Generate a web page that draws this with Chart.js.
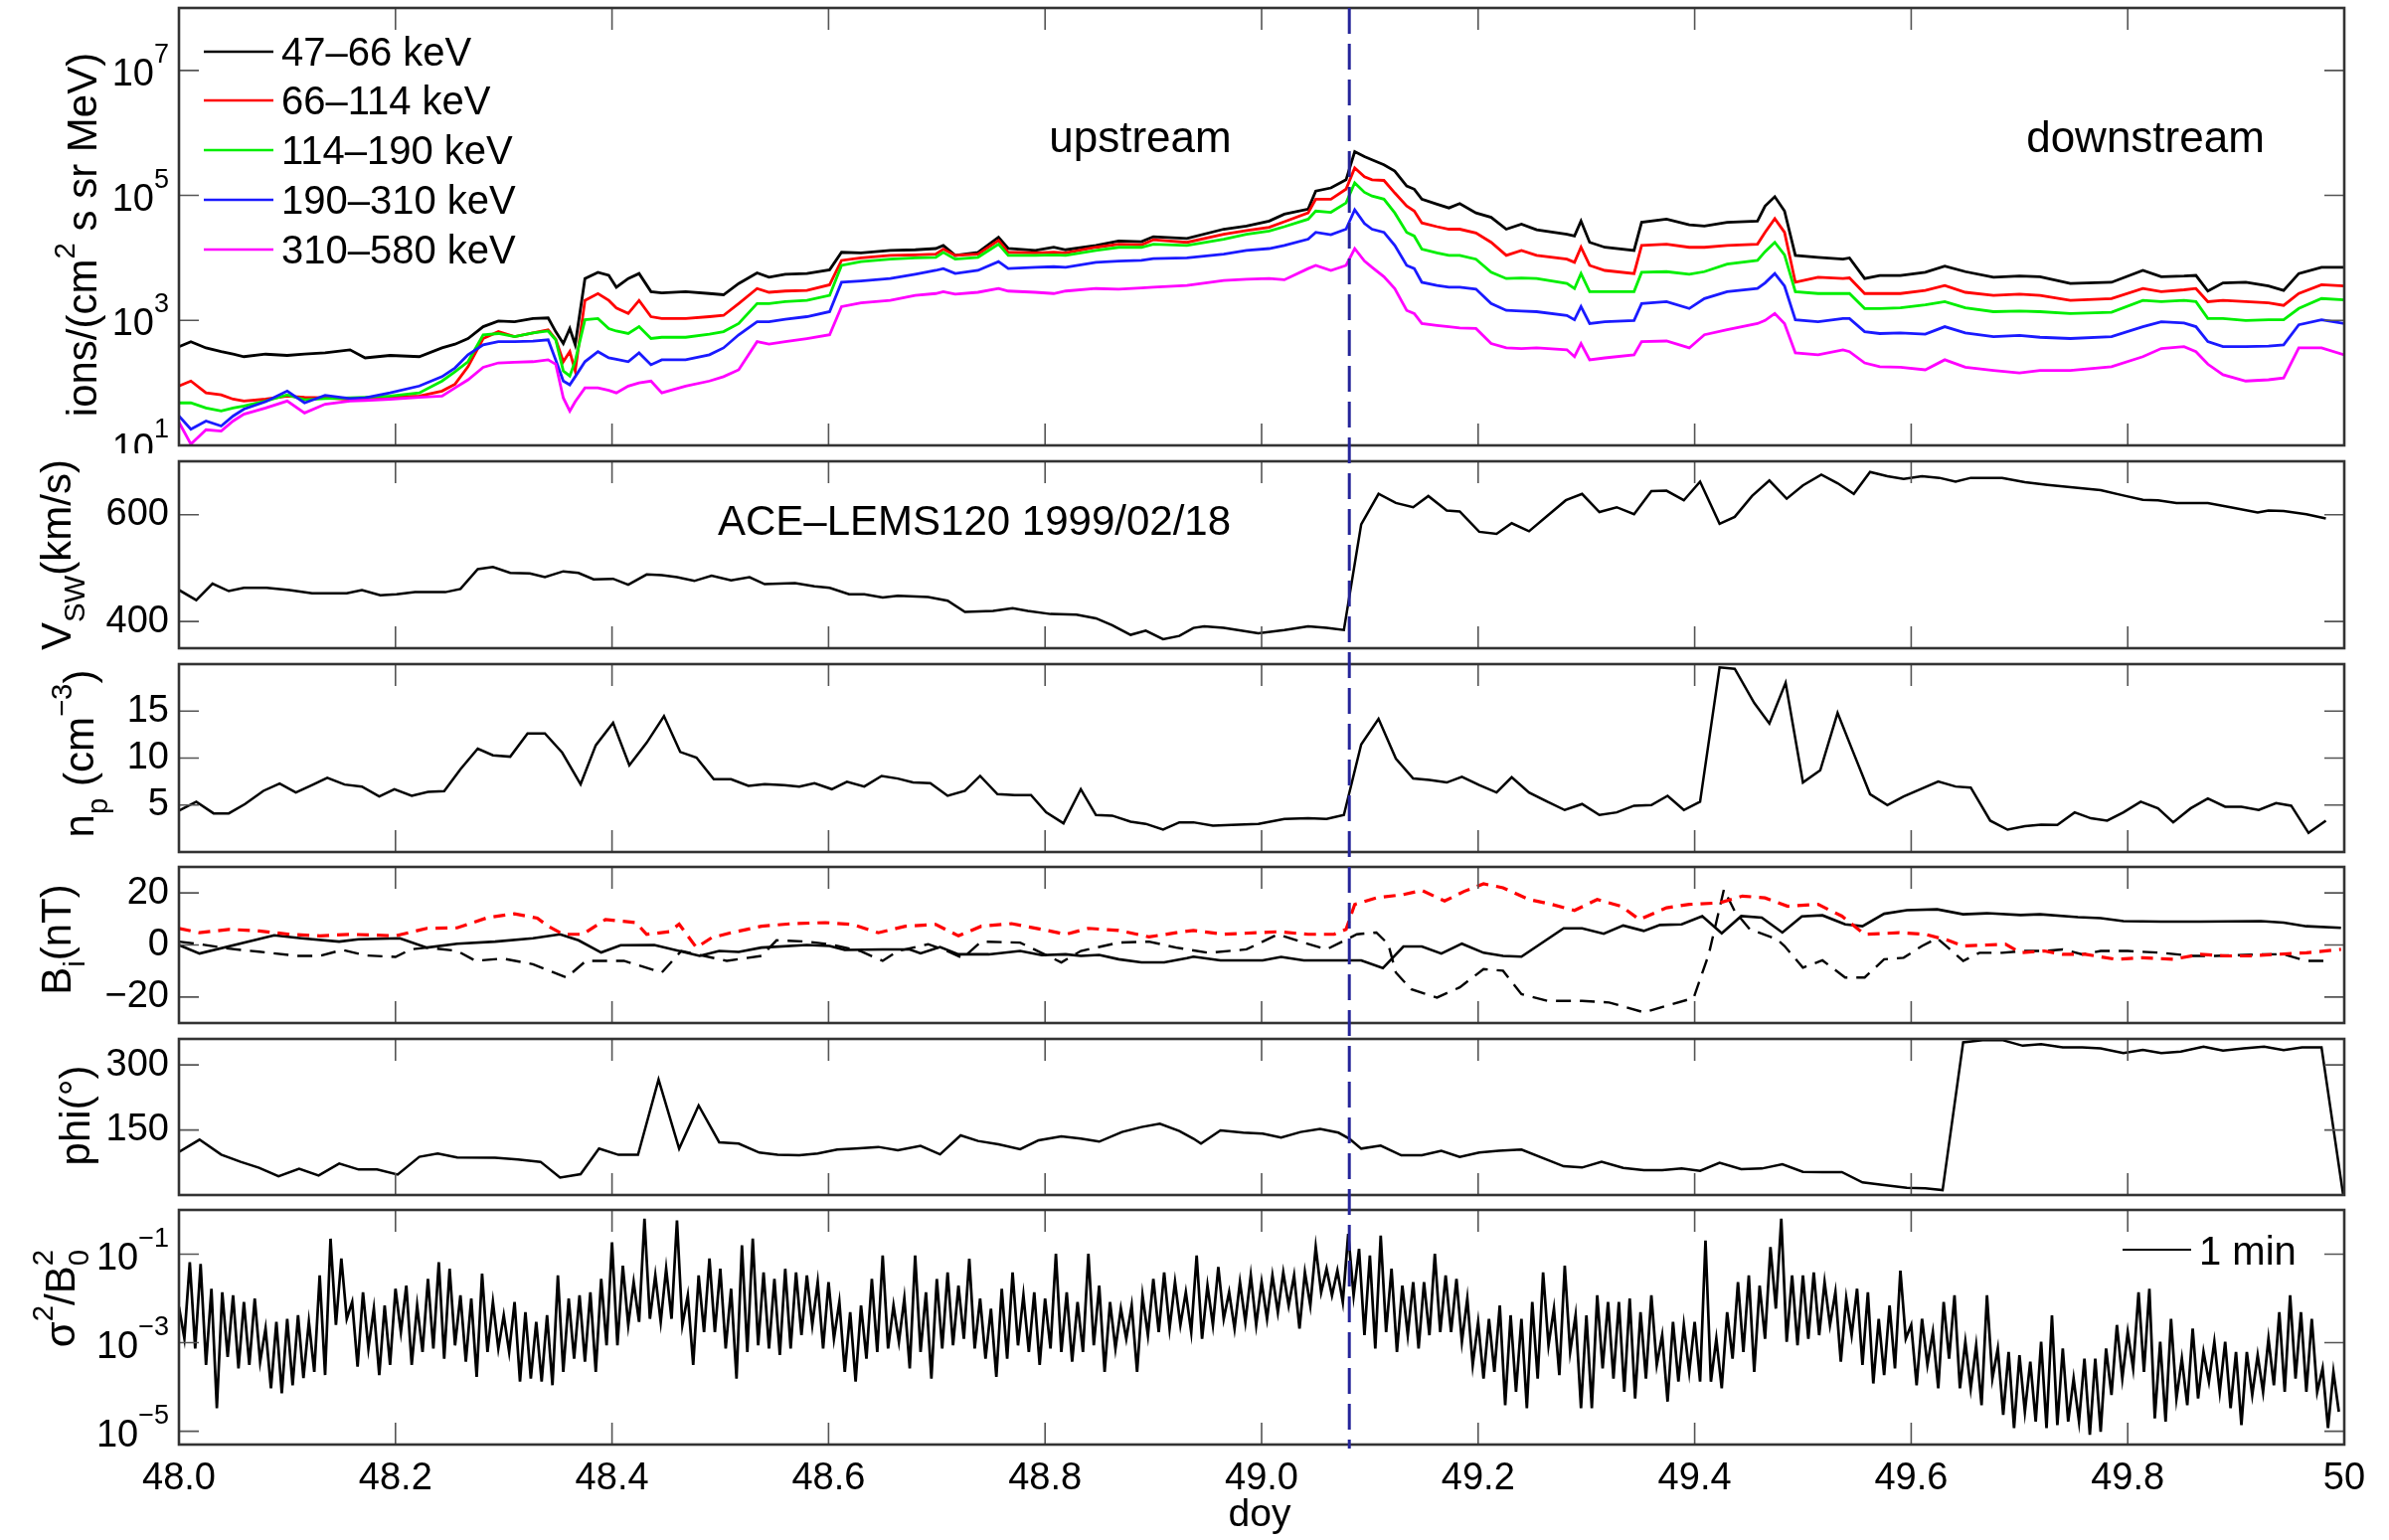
<!DOCTYPE html>
<html>
<head>
<meta charset="utf-8">
<title>ACE-LEMS120 1999/02/18</title>
<script src="https://cdn.jsdelivr.net/npm/chart.js@4.4.0/dist/chart.umd.min.js"></script>
<style>
  html, body { margin: 0; padding: 0; background: #fff; }
  #wrap { position: relative; width: 2403px; height: 1549px; overflow: hidden; }
  #wrap canvas { position: absolute; left: 0; }
</style>
</head>
<body>
<div id="wrap"></div>
<script>
/**
 * Six stacked panels around the 1999 doy 49 shock: ion fluxes, solar wind speed,
 * density, field components, field angle and normalised field variance.
 */

// energetic ion fluxes, log10 of ions/(cm^2 s sr MeV)
const epTime = [
  48.000, 48.011, 48.025, 48.039, 48.050, 48.060, 48.080, 48.100, 48.116, 48.135,
  48.158, 48.172, 48.195, 48.222, 48.243, 48.255, 48.267, 48.281, 48.295, 48.310,
  48.327, 48.341, 48.348, 48.355, 48.361, 48.366, 48.375, 48.387, 48.397, 48.404,
  48.415, 48.425, 48.436, 48.446, 48.468, 48.490, 48.503, 48.517, 48.534, 48.545,
  48.560, 48.580, 48.601, 48.612, 48.630, 48.657, 48.680, 48.699, 48.706, 48.717,
  48.738, 48.757, 48.766, 48.791, 48.808, 48.819, 48.847, 48.868, 48.889, 48.900,
  48.931, 48.965, 48.986, 49.007, 49.021, 49.043, 49.050, 49.064, 49.078, 49.086,
  49.095, 49.102, 49.113, 49.123, 49.134, 49.141, 49.148, 49.162, 49.173, 49.183,
  49.198, 49.212, 49.226, 49.240, 49.254, 49.282, 49.289, 49.295, 49.303, 49.317,
  49.344, 49.351, 49.374, 49.395, 49.409, 49.430, 49.458, 49.465, 49.474, 49.483,
  49.493, 49.514, 49.537, 49.543, 49.557, 49.571, 49.590, 49.613, 49.631, 49.650,
  49.676, 49.700, 49.719, 49.747, 49.785, 49.814, 49.831, 49.852, 49.863, 49.874,
  49.888, 49.909, 49.930, 49.944, 49.958, 49.979, 50.000
];
const flux47 = [
  2.58, 2.66, 2.56, 2.50, 2.46, 2.42, 2.46, 2.44, 2.46, 2.48,
  2.53, 2.40, 2.44, 2.42, 2.56, 2.62, 2.71, 2.90, 2.99, 2.98,
  3.03, 3.04, 2.82, 2.63, 2.87, 2.61, 3.67, 3.77, 3.72, 3.53,
  3.67, 3.75, 3.46, 3.44, 3.46, 3.43, 3.41, 3.59, 3.76, 3.69,
  3.74, 3.75, 3.81, 4.09, 4.08, 4.12, 4.13, 4.15, 4.20, 4.04,
  4.09, 4.33, 4.15, 4.12, 4.17, 4.13, 4.20, 4.27, 4.26, 4.34,
  4.31, 4.46, 4.51, 4.59, 4.70, 4.78, 5.07, 5.12, 5.25, 5.70,
  5.62, 5.57, 5.49, 5.39, 5.15, 5.10, 4.94, 4.86, 4.80, 4.87,
  4.72, 4.65, 4.46, 4.54, 4.45, 4.38, 4.35, 4.59, 4.25, 4.17,
  4.12, 4.57, 4.62, 4.53, 4.51, 4.57, 4.59, 4.83, 4.98, 4.75,
  4.04, 4.01, 3.98, 4.00, 3.67, 3.72, 3.72, 3.77, 3.87, 3.78,
  3.69, 3.71, 3.70, 3.59, 3.61, 3.80, 3.70, 3.71, 3.72, 3.47,
  3.60, 3.61, 3.55, 3.48, 3.75, 3.85, 3.85
];
const flux66 = [
  1.95, 2.03, 1.84, 1.81, 1.74, 1.71, 1.74, 1.79, 1.77, 1.76,
  1.74, 1.75, 1.77, 1.79, 1.87, 1.98, 2.26, 2.71, 2.82, 2.74,
  2.80, 2.85, 2.70, 2.34, 2.50, 2.19, 3.32, 3.43, 3.32, 3.20,
  3.11, 3.32, 3.06, 3.03, 3.03, 3.06, 3.08, 3.27, 3.51, 3.45,
  3.47, 3.48, 3.57, 3.96, 4.00, 4.04, 4.05, 4.06, 4.14, 4.04,
  4.06, 4.28, 4.09, 4.08, 4.09, 4.08, 4.17, 4.22, 4.21, 4.29,
  4.25, 4.38, 4.44, 4.49, 4.58, 4.72, 4.94, 4.94, 5.10, 5.44,
  5.30, 5.25, 5.24, 5.04, 4.83, 4.75, 4.56, 4.50, 4.46, 4.46,
  4.40, 4.25, 4.04, 4.12, 4.04, 3.98, 3.93, 4.17, 3.88, 3.80,
  3.75, 4.20, 4.22, 4.17, 4.17, 4.20, 4.22, 4.41, 4.63, 4.41,
  3.61, 3.69, 3.67, 3.68, 3.43, 3.43, 3.43, 3.48, 3.56, 3.45,
  3.40, 3.42, 3.40, 3.32, 3.35, 3.51, 3.46, 3.49, 3.51, 3.30,
  3.32, 3.30, 3.28, 3.24, 3.43, 3.57, 3.55
];
const flux114 = [
  1.68, 1.68, 1.60, 1.55, 1.60, 1.63, 1.71, 1.81, 1.73, 1.75,
  1.76, 1.77, 1.79, 1.84, 2.03, 2.18, 2.34, 2.77, 2.79, 2.74,
  2.80, 2.83, 2.69, 2.19, 2.11, 2.35, 3.01, 3.03, 2.87, 2.83,
  2.79, 2.90, 2.71, 2.73, 2.73, 2.78, 2.82, 2.95, 3.27, 3.27,
  3.30, 3.32, 3.40, 3.88, 3.94, 3.98, 4.00, 4.01, 4.09, 3.98,
  4.01, 4.22, 4.04, 4.04, 4.05, 4.04, 4.12, 4.17, 4.17, 4.22,
  4.20, 4.30, 4.38, 4.43, 4.50, 4.62, 4.75, 4.73, 4.88, 5.20,
  5.05, 4.99, 4.94, 4.72, 4.41, 4.35, 4.14, 4.08, 4.04, 4.04,
  3.98, 3.77, 3.67, 3.68, 3.67, 3.59, 3.51, 3.75, 3.46, 3.46,
  3.46, 3.77, 3.78, 3.74, 3.78, 3.90, 3.96, 4.10, 4.25, 4.05,
  3.46, 3.43, 3.43, 3.43, 3.19, 3.19, 3.20, 3.25, 3.30, 3.20,
  3.14, 3.15, 3.14, 3.11, 3.13, 3.32, 3.30, 3.32, 3.30, 3.03,
  3.03, 3.00, 3.01, 3.01, 3.19, 3.35, 3.33
];
const flux190 = [
  1.47, 1.26, 1.39, 1.31, 1.47, 1.58, 1.70, 1.87, 1.68, 1.80,
  1.75, 1.76, 1.84, 1.95, 2.10, 2.24, 2.45, 2.61, 2.66, 2.66,
  2.67, 2.69, 2.37, 2.03, 1.97, 2.10, 2.34, 2.50, 2.40, 2.38,
  2.34, 2.48, 2.29, 2.37, 2.37, 2.45, 2.56, 2.77, 2.98, 2.98,
  3.02, 3.06, 3.14, 3.61, 3.63, 3.67, 3.74, 3.80, 3.83, 3.75,
  3.80, 3.94, 3.83, 3.85, 3.86, 3.85, 3.93, 3.95, 3.96, 3.99,
  4.00, 4.06, 4.12, 4.15, 4.20, 4.30, 4.41, 4.37, 4.46, 4.77,
  4.55, 4.46, 4.41, 4.20, 3.88, 3.83, 3.61, 3.56, 3.53, 3.53,
  3.50, 3.27, 3.16, 3.15, 3.14, 3.08, 3.01, 3.22, 2.95, 2.98,
  3.00, 3.27, 3.30, 3.19, 3.35, 3.46, 3.51, 3.60, 3.75, 3.55,
  3.01, 2.98, 3.03, 3.03, 2.82, 2.79, 2.80, 2.78, 2.90, 2.80,
  2.74, 2.76, 2.73, 2.71, 2.74, 2.90, 2.98, 2.96, 2.90, 2.66,
  2.58, 2.58, 2.59, 2.61, 2.93, 3.01, 2.95
];
const flux310 = [
  1.37, 1.02, 1.25, 1.23, 1.39, 1.50, 1.60, 1.71, 1.52, 1.66,
  1.71, 1.72, 1.74, 1.77, 1.79, 1.92, 2.05, 2.25, 2.32, 2.33,
  2.34, 2.37, 2.30, 1.76, 1.55, 1.70, 1.92, 1.92, 1.88, 1.84,
  1.95, 2.00, 2.03, 1.84, 1.95, 2.03, 2.10, 2.21, 2.66, 2.62,
  2.66, 2.71, 2.77, 3.22, 3.28, 3.32, 3.40, 3.43, 3.46, 3.42,
  3.45, 3.51, 3.47, 3.45, 3.43, 3.47, 3.51, 3.50, 3.52, 3.53,
  3.56, 3.64, 3.66, 3.67, 3.65, 3.83, 3.88, 3.80, 3.88, 4.15,
  3.95, 3.85, 3.70, 3.51, 3.16, 3.11, 2.95, 2.92, 2.90, 2.88,
  2.87, 2.63, 2.56, 2.55, 2.56, 2.53, 2.42, 2.63, 2.37, 2.40,
  2.45, 2.66, 2.67, 2.56, 2.77, 2.85, 2.95, 3.00, 3.11, 2.95,
  2.48, 2.45, 2.53, 2.50, 2.32, 2.26, 2.25, 2.21, 2.37, 2.25,
  2.20, 2.16, 2.20, 2.20, 2.26, 2.42, 2.55, 2.58, 2.50, 2.30,
  2.13, 2.03, 2.05, 2.08, 2.56, 2.56, 2.45
];
const epLabels = ['47–66 keV', '66–114 keV', '114–190 keV', '190–310 keV', '310–580 keV'];
const epColors = ['#000000', '#ff0000', '#00ee00', '#1a1aff', '#ff00ff'];
const epTicks = [1e1, 1e3, 1e5, 1e7];

// solar wind speed (km/s)
const vTime = [
  48.000, 48.016, 48.031, 48.046, 48.060, 48.081, 48.102, 48.123, 48.155, 48.169,
  48.186, 48.201, 48.218, 48.246, 48.260, 48.276, 48.290, 48.306, 48.324, 48.338,
  48.355, 48.369, 48.383, 48.401, 48.415, 48.432, 48.446, 48.460, 48.476, 48.492,
  48.510, 48.527, 48.541, 48.569, 48.587, 48.601, 48.619, 48.633, 48.650, 48.664,
  48.692, 48.710, 48.726, 48.752, 48.770, 48.784, 48.805, 48.829, 48.847, 48.862,
  48.879, 48.893, 48.909, 48.924, 48.937, 48.947, 48.965, 48.997, 49.021, 49.043,
  49.060, 49.076, 49.092, 49.108, 49.124, 49.140, 49.154, 49.171, 49.183, 49.201,
  49.217, 49.231, 49.247, 49.264, 49.281, 49.296, 49.312, 49.328, 49.344, 49.360,
  49.374, 49.390, 49.405, 49.423, 49.437, 49.453, 49.469, 49.485, 49.500, 49.517,
  49.532, 49.547, 49.562, 49.578, 49.593, 49.610, 49.626, 49.641, 49.655, 49.684,
  49.705, 49.726, 49.754, 49.775, 49.796, 49.814, 49.828, 49.845, 49.874, 49.895,
  49.920, 49.930, 49.944, 49.965, 49.983
];
const vSw = [
  459, 440, 471, 457, 463, 463, 459, 453, 453, 459,
  449, 451, 455, 455, 461, 498, 502, 491, 490, 483,
  494, 491, 479, 480, 469, 488, 487, 483, 476, 486,
  477, 483, 470, 472, 466, 463, 451, 451, 445, 448,
  446, 439, 418, 420, 425, 420, 414, 413, 406, 393,
  375, 383, 367, 373, 388, 391, 388, 378, 384, 391,
  388, 384, 582, 639, 622, 614, 635, 608, 606, 568,
  564, 584, 569, 598, 627, 639, 605, 614, 601, 644,
  645, 627, 662, 583, 596, 635, 664, 630, 655, 675,
  659, 639, 680, 672, 667, 672, 669, 662, 669, 669,
  661, 656, 650, 646, 636, 628, 627, 622, 622, 614,
  604, 608, 607, 601, 593
];

// proton density (cm^-3)
const npTime = [
  48.000, 48.016, 48.032, 48.046, 48.061, 48.078, 48.093, 48.108, 48.123, 48.137,
  48.153, 48.169, 48.185, 48.199, 48.215, 48.230, 48.245, 48.260, 48.276, 48.290,
  48.306, 48.322, 48.338, 48.354, 48.371, 48.385, 48.401, 48.416, 48.432, 48.448,
  48.463, 48.478, 48.494, 48.510, 48.526, 48.541, 48.559, 48.573, 48.587, 48.603,
  48.617, 48.633, 48.649, 48.664, 48.678, 48.694, 48.710, 48.726, 48.740, 48.756,
  48.772, 48.787, 48.801, 48.817, 48.833, 48.847, 48.862, 48.879, 48.893, 48.909,
  48.924, 48.937, 48.955, 48.972, 48.997, 49.021, 49.043, 49.060, 49.076, 49.092,
  49.108, 49.124, 49.140, 49.155, 49.171, 49.185, 49.201, 49.217, 49.231, 49.247,
  49.264, 49.280, 49.296, 49.312, 49.328, 49.344, 49.360, 49.375, 49.390, 49.405,
  49.423, 49.437, 49.455, 49.469, 49.484, 49.500, 49.516, 49.532, 49.546, 49.562,
  49.578, 49.593, 49.610, 49.625, 49.641, 49.655, 49.673, 49.689, 49.705, 49.720,
  49.735, 49.751, 49.766, 49.781, 49.796, 49.812, 49.828, 49.842, 49.858, 49.874,
  49.890, 49.905, 49.921, 49.937, 49.951, 49.967, 49.983
];
const np = [
  4.40, 5.35, 4.11, 4.11, 5.11, 6.51, 7.29, 6.34, 7.12, 7.89,
  7.18, 6.97, 5.91, 6.69, 5.98, 6.41, 6.48, 8.81, 11.00, 10.29,
  10.15, 12.63, 12.63, 10.58, 7.22, 11.36, 13.75, 9.24, 11.63, 14.46,
  10.65, 10.05, 7.75, 7.75, 7.04, 7.22, 7.12, 6.97, 7.33, 6.69,
  7.47, 6.97, 8.10, 7.82, 7.40, 7.33, 5.98, 6.51, 8.10, 6.16,
  6.06, 6.06, 4.22, 3.05, 6.69, 3.94, 3.87, 3.23, 3.00, 2.38,
  3.16, 3.16, 2.81, 2.88, 2.99, 3.52, 3.59, 3.52, 3.94, 11.46,
  14.18, 9.94, 7.82, 7.68, 7.40, 8.00, 7.12, 6.34, 7.96, 6.34,
  5.35, 4.47, 5.11, 3.94, 4.22, 4.93, 5.00, 5.98, 4.47, 5.35,
  19.65, 19.50, 15.87, 13.68, 18.00, 7.40, 8.70, 14.81, 10.75, 6.16,
  5.00, 5.91, 6.76, 7.50, 6.97, 6.86, 3.34, 2.38, 2.74, 2.92,
  2.88, 4.22, 3.59, 3.34, 4.22, 5.35, 4.64, 3.16, 4.64, 5.70,
  4.82, 4.82, 4.47, 5.21, 4.93, 2.03, 3.34
];

// magnetic field components (nT)
const bSolidTime = [
  48.000, 48.019, 48.088, 48.113, 48.148, 48.166, 48.204, 48.229, 48.257, 48.292,
  48.327, 48.352, 48.369, 48.390, 48.408, 48.439, 48.481, 48.499, 48.517, 48.538,
  48.580, 48.601, 48.615, 48.650, 48.675, 48.685, 48.703, 48.720, 48.748, 48.777,
  48.797, 48.819, 48.833, 48.850, 48.868, 48.889, 48.910, 48.931, 48.937, 48.962,
  49.001, 49.018, 49.039, 49.092, 49.112, 49.131, 49.148, 49.166, 49.185, 49.205,
  49.223, 49.240, 49.279, 49.296, 49.316, 49.334, 49.353, 49.368, 49.388, 49.407,
  49.425, 49.443, 49.462, 49.481, 49.499, 49.518, 49.539, 49.555, 49.575, 49.596,
  49.624, 49.648, 49.670, 49.701, 49.719, 49.754, 49.775, 49.796, 49.831, 49.867,
  49.923, 49.944, 49.965, 49.997
];
const bSolid = [
  0.0, -3.3, 3.7, 2.6, 1.3, 2.2, 2.6, -1.0, 0.5, 1.3,
  2.6, 4.1, 1.8, -2.9, -0.1, 0.0, -4.2, -2.3, -2.7, -1.0,
  0.0, -0.4, -1.9, -1.7, -1.7, -3.2, -0.8, -3.6, -3.6, -2.3,
  -3.9, -3.6, -4.2, -3.8, -5.5, -6.7, -6.7, -5.1, -4.5, -5.9,
  -5.9, -4.6, -5.9, -5.9, -8.9, -0.6, -0.6, -3.3, 0.5, -3.0,
  -4.2, -4.5, 6.4, 6.4, 4.3, 7.5, 5.4, 7.7, 7.9, 11.1,
  4.5, 11.1, 10.5, 4.8, 11.0, 11.4, 7.9, 7.2, 12.0, 13.4,
  13.7, 11.8, 12.2, 11.5, 11.8, 10.7, 10.3, 9.2, 9.0, 9.0,
  9.2, 8.6, 7.2, 6.6
];
const bDashTime = [
  48.000, 48.019, 48.046, 48.074, 48.109, 48.130, 48.151, 48.172, 48.200, 48.214,
  48.229, 48.257, 48.274, 48.299, 48.327, 48.358, 48.376, 48.411, 48.446, 48.464,
  48.506, 48.538, 48.552, 48.580, 48.601, 48.629, 48.650, 48.664, 48.692, 48.706,
  48.724, 48.741, 48.777, 48.815, 48.833, 48.868, 48.896, 48.921, 48.951, 48.986,
  49.015, 49.039, 49.060, 49.088, 49.106, 49.117, 49.124, 49.138, 49.162, 49.183,
  49.205, 49.223, 49.240, 49.264, 49.296, 49.321, 49.353, 49.374, 49.399, 49.413,
  49.427, 49.437, 49.451, 49.476, 49.483, 49.500, 49.518, 49.539, 49.557, 49.575,
  49.593, 49.610, 49.624, 49.634, 49.648, 49.663, 49.684, 49.705, 49.723, 49.740,
  49.758, 49.775, 49.800, 49.831, 49.860, 49.881, 49.923, 49.944, 49.965, 49.986
];
const bDash = [
  1.3, 0.3, -1.4, -2.6, -4.2, -4.2, -1.9, -4.0, -4.6, -1.7,
  -1.0, -2.3, -6.1, -5.2, -7.4, -12.5, -6.1, -6.1, -10.6, -2.3,
  -6.1, -4.2, 1.8, 1.3, 0.3, -2.3, -6.1, -2.3, 0.3, -1.7,
  -5.0, 1.3, 0.9, -6.7, -2.3, 0.9, 1.3, -1.0, -3.0, -1.7,
  4.1, 0.9, -1.7, 4.1, 4.8, 0.3, -10.6, -17.0, -20.2, -16.3,
  -9.3, -9.9, -18.9, -21.5, -21.5, -22.1, -25.9, -23.4, -20.4, -3.6,
  21.3, 13.0, 6.0, 2.2, -0.4, -8.7, -5.9, -12.5, -12.5, -5.5,
  -4.9, -0.4, 2.6, -1.0, -6.1, -3.0, -3.0, -2.3, -2.3, -1.7,
  -3.6, -2.3, -2.3, -3.0, -4.2, -4.2, -3.6, -3.6, -6.1, -6.1
];
const bRedTime = [
  48.000, 48.019, 48.046, 48.074, 48.102, 48.130, 48.158, 48.200, 48.229, 48.257,
  48.285, 48.310, 48.331, 48.341, 48.355, 48.373, 48.394, 48.422, 48.432, 48.453,
  48.462, 48.478, 48.492, 48.510, 48.538, 48.566, 48.597, 48.622, 48.646, 48.671,
  48.699, 48.720, 48.741, 48.769, 48.797, 48.819, 48.840, 48.868, 48.896, 48.921,
  48.937, 48.965, 49.015, 49.043, 49.067, 49.078, 49.086, 49.106, 49.131, 49.148,
  49.169, 49.187, 49.205, 49.223, 49.247, 49.268, 49.289, 49.310, 49.332, 49.349,
  49.374, 49.395, 49.423, 49.444, 49.465, 49.486, 49.514, 49.536, 49.557, 49.589,
  49.613, 49.634, 49.648, 49.670, 49.687, 49.701, 49.723, 49.740, 49.761, 49.789,
  49.814, 49.842, 49.867, 49.892, 49.912, 49.937, 49.965, 49.997
];
const bRed = [
  6.4, 4.7, 6.0, 5.4, 4.1, 3.5, 4.1, 3.5, 6.4, 6.6,
  10.5, 12.0, 10.3, 7.2, 4.1, 4.1, 9.8, 8.6, 4.1, 5.1,
  8.0, -1.0, 2.8, 4.7, 7.2, 8.2, 8.6, 7.9, 4.7, 7.2,
  7.9, 3.5, 7.2, 8.2, 6.0, 4.1, 6.4, 5.6, 3.1, 4.7,
  5.6, 4.1, 5.1, 4.1, 4.1, 6.0, 15.6, 18.1, 19.4, 21.0,
  16.9, 20.6, 23.5, 22.0, 17.5, 15.6, 13.3, 17.5, 14.9, 9.8,
  14.3, 15.6, 16.2, 18.8, 18.1, 14.9, 15.6, 11.1, 4.1, 4.7,
  4.1, 1.8, -0.4, 0.0, 0.3, -3.0, -2.3, -3.6, -3.6, -5.5,
  -4.9, -5.5, -3.6, -4.2, -4.2, -3.6, -3.0, -1.7
];

// field angle phi (deg)
const phiTime = [
  48.000, 48.019, 48.039, 48.057, 48.074, 48.092, 48.111, 48.129, 48.148, 48.166,
  48.183, 48.202, 48.222, 48.239, 48.257, 48.292, 48.313, 48.334, 48.352, 48.371,
  48.388, 48.406, 48.424, 48.443, 48.462, 48.480, 48.499, 48.517, 48.536, 48.553,
  48.573, 48.590, 48.608, 48.625, 48.646, 48.664, 48.685, 48.703, 48.722, 48.738,
  48.757, 48.777, 48.794, 48.815, 48.833, 48.850, 48.871, 48.889, 48.906, 48.924,
  48.937, 48.944, 48.962, 48.983, 49.001, 49.018, 49.036, 49.054, 49.071, 49.081,
  49.092, 49.110, 49.129, 49.148, 49.166, 49.183, 49.201, 49.219, 49.240, 49.279,
  49.296, 49.314, 49.334, 49.353, 49.370, 49.388, 49.405, 49.423, 49.443, 49.462,
  49.481, 49.500, 49.518, 49.536, 49.555, 49.575, 49.596, 49.613, 49.629, 49.648,
  49.666, 49.684, 49.703, 49.720, 49.740, 49.758, 49.775, 49.796, 49.814, 49.831,
  49.849, 49.870, 49.888, 49.907, 49.926, 49.944, 49.961, 49.979, 49.999
];
const phi = [
  99.5, 127.7, 93.3, 76.5, 62.7, 43.4, 60.4, 45.0, 72.6, 58.8,
  58.8, 47.3, 88.0, 95.6, 86.4, 86.1, 81.8, 76.5, 40.4, 48.0,
  107.0, 92.6, 92.9, 266.2, 107.0, 206.5, 121.6, 118.5, 97.9, 92.9,
  91.7, 95.6, 104.7, 107.0, 110.9, 103.1, 113.2, 93.7, 137.6, 124.7,
  117.0, 105.5, 126.2, 135.3, 130.0, 123.1, 145.3, 156.8, 164.5, 147.7,
  130.0, 118.5, 149.2, 143.8, 141.5, 132.3, 145.3, 152.3, 143.8, 130.0,
  107.0, 113.9, 91.7, 91.7, 101.8, 88.0, 97.9, 101.8, 104.7, 66.4,
  63.4, 76.5, 62.7, 57.2, 57.2, 61.1, 55.8, 74.2, 59.5, 61.1,
  71.0, 53.5, 53.0, 53.0, 29.0, 22.8, 16.7, 15.2, 11.3, 352.1,
  357.4, 357.4, 344.3, 348.2, 340.6, 340.6, 338.3, 327.6, 334.5, 327.6,
  330.6, 342.0, 332.9, 338.3, 342.0, 334.5, 340.6, 340.6, 0
];

// sigma^2/B0^2 at 1 min, log10 values; two samples per 0.01 day
const sigmaStart = 48.0;
const sigmaStep = 0.005;
const sigmaLog = [
  -2.19,-2.90, -1.18,-3.13, -1.22,-3.50, -1.78,-4.48, -1.86,-3.32, -1.93,-3.58, -2.08,-3.50, -2.00,-3.43, -2.68,-4.03, -2.53,-4.14,
  -2.46,-3.96, -2.38,-3.80, -2.53,-3.66, -1.48,-3.73, -0.65,-2.60, -1.10,-2.46, -2.08,-3.54, -1.86,-3.13, -2.23,-3.73, -2.16,-3.50,
  -1.78,-2.76, -1.71,-3.50, -2.16,-3.21, -1.56,-3.13, -1.18,-3.36, -1.33,-3.06, -1.93,-3.43, -2.00,-3.77, -1.44,-3.21, -2.08,-3.13,
  -2.38,-3.21, -2.08,-3.88, -2.31,-3.81, -2.53,-3.88, -2.38,-3.96, -1.48,-3.66, -2.00,-3.36, -1.93,-3.43, -1.86,-3.66, -1.56,-3.06,
  -0.73,-3.06, -1.26,-2.60, -1.63,-2.53, -0.20,-2.46, -1.48,-2.53, -1.33,-2.46, -0.24,-2.60, -1.93,-3.50, -1.48,-2.76, -1.10,-2.76,
  -1.33,-3.13, -1.78,-3.81, -0.80,-3.21, -0.65,-3.06, -1.41,-3.13, -1.56,-3.28, -1.33,-3.13,
  -1.41,-2.83, -1.48,-2.60, -1.63,-3.13, -1.63,-2.91, -2.08,-3.66, -2.31,-3.88, -2.16,-3.36, -1.56,-3.21, -1.03,-3.13, -2.16,-2.98,
  -2.00,-3.58, -1.03,-3.21, -1.86,-3.81, -1.56,-3.13, -1.41,-3.06, -1.71,-2.91, -1.10,-3.13, -2.00,-3.36, -2.23,-3.77, -1.78,-3.36,
  -1.41,-3.06, -1.93,-3.21, -1.86,-3.50, -2.00,-3.13, -0.99,-3.21, -1.86,-3.43, -2.08,-3.21, -0.99,-3.06, -1.71,-3.66, -2.08,-3.13,
  -2.23,-2.91, -2.16,-3.66, -1.93,-2.83, -1.56,-2.76, -1.41,-2.68, -1.63,-2.60, -1.86,-2.76, -1.03,-2.91, -1.71,-2.60, -1.29,-2.46,
  -1.86,-2.68, -1.63,-2.53, -1.48,-2.60, -1.63,-2.46, -1.48,-2.31, -1.41,-2.16, -1.48,-2.68, -1.41,-2.16, -0.84,-1.86, -1.33,-1.93,
  -1.37,-2.08, -0.54,-1.93, -0.88,-2.83, -1.03,-3.13, -0.58,-2.76, -1.33,-3.21, -1.71,-2.83, -1.63,-3.13, -1.63,-2.83, -0.99,-2.76,
  -1.48,-2.76, -1.56,-2.98, -2.00,-3.50, -2.53,-3.81, -2.46,-3.66, -2.16,-4.41, -2.38,-4.11, -2.46,-4.48, -2.08,-3.81, -1.41,-3.06,
  -2.23,-3.73, -1.26,-3.21, -2.38,-4.48,
  -2.38,-4.48, -1.93,-3.58, -2.08,-3.81, -2.08,-4.11, -2.00,-4.26, -2.31,-3.81, -1.93,-3.50, -2.83,-4.33, -2.53,-3.88, -2.60,-3.66,
  -2.53,-3.88, -0.69,-3.88, -2.91,-4.03, -2.31,-3.36, -1.63,-3.21, -1.48,-3.66, -1.71,-2.91, -0.84,-2.23, -0.20,-2.98, -1.48,-3.06,
  -1.48,-2.91, -1.41,-2.83, -1.63,-2.60, -1.86,-3.43, -2.00,-2.83, -1.78,-3.50, -1.86,-3.92, -2.46,-3.73, -2.16,-3.58, -1.37,-2.91,
  -2.60,-3.96, -2.46,-3.50, -2.76,-4.03, -2.08,-3.36, -1.93,-4.03, -2.98,-4.03, -3.06,-4.41, -1.93,-3.81, -3.13,-4.63, -3.21,-4.93,
  -3.28,-4.56, -3.43,-4.78, -2.98,-4.93, -2.38,-4.86, -3.13,-4.78, -3.81,-4.78, -3.36,-5.08, -3.36,-5.01, -3.13,-4.18, -2.60,-3.81,
  -2.76,-3.58, -1.86,-3.66, -1.78,-4.71, -2.98,-4.78, -2.46,-4.26, -3.36,-4.41, -2.68,-4.26, -3.21,-3.88, -2.98,-4.11, -2.98,-4.48,
  -3.21,-4.86, -3.21,-4.18, -3.28,-4.11, -2.91,-3.96, -2.31,-4.11, -1.93,-3.81, -2.31,-4.11, -2.46,-4.11, -3.58,-4.93, -3.66,-4.56
];
const sigmaTicks = [1e-5, 1e-3, 1e-1];

// shared time axis
const xTickValues = [48.0, 48.2, 48.4, 48.6, 48.8, 49.0, 49.2, 49.4, 49.6, 49.8, 50.0];
const xTickLabels = ['48.0', '48.2', '48.4', '48.6', '48.8', '49.0', '49.2', '49.4', '49.6', '49.8', '50'];
const shockDoy = 49.081;

// ---------------------------------------------------------------------------
const FONT = "'Liberation Sans', Arial, Helvetica, sans-serif";
const PAGE_W = 2403, PAGE_H = 1549;
const PLOT_LEFT = 180, PLOT_RIGHT = 2358;
const SHOCK_TOP = 8, SHOCK_BOTTOM = 1457;

Chart.defaults.font.family = FONT;
Chart.defaults.color = '#000';

// page rows: plot box top/bottom and the canvas strip that holds it
const panels = [
  { top: 8,    bottom: 448,  canvasTop: 0,    canvasBottom: 456 },
  { top: 464,  bottom: 652,  canvasTop: 456,  canvasBottom: 660 },
  { top: 668,  bottom: 857,  canvasTop: 660,  canvasBottom: 864 },
  { top: 872,  bottom: 1029, canvasTop: 864,  canvasBottom: 1037 },
  { top: 1045, bottom: 1202, canvasTop: 1037, canvasBottom: 1209 },
  { top: 1217, bottom: 1453, canvasTop: 1209, canvasBottom: 1549 }
];

const pow10 = v => Math.pow(10, v);
const pts = (t, v, f) => t.map((x, i) => ({ x, y: f ? f(v[i]) : v[i] }));

function fontPx(size) { return size + 'px ' + FONT; }

// width of a piece of label text; pieces carry plain text or a sub/superscript
function pieceWidth(ctx, p, size) {
  if (p.t !== undefined) { ctx.font = fontPx(size); return ctx.measureText(p.t).width; }
  ctx.font = fontPx(size * 0.7);
  return Math.max(p.sub ? ctx.measureText(p.sub).width : 0, p.sup ? ctx.measureText(p.sup).width : 0);
}

function drawRich(ctx, parts, x, y, size, align) {
  const total = parts.reduce((s, p) => s + pieceWidth(ctx, p, size), 0);
  let cx = align === 'center' ? x - total / 2 : (align === 'right' ? x - total : x);
  ctx.textAlign = 'left';
  ctx.textBaseline = 'alphabetic';
  parts.forEach(p => {
    const w = pieceWidth(ctx, p, size);
    if (p.t !== undefined) {
      ctx.font = fontPx(size);
      ctx.fillText(p.t, cx, y);
    } else {
      ctx.font = fontPx(size * 0.7);
      if (p.sub) ctx.fillText(p.sub, cx, y + size * 0.33);
      if (p.sup) ctx.fillText(p.sup, cx, y - size * 0.52);
    }
    cx += w;
  });
}

function xScale(show) {
  return {
    type: 'linear', min: 48, max: 50, display: show,
    grid: { display: false, drawTicks: false },
    border: { display: false },
    afterBuildTicks: s => { s.ticks = xTickValues.map(v => ({ value: v })); },
    afterFit: s => {
      if (show) s.height = PAGE_H - panels[5].bottom;
      s.paddingLeft = 0;
      s.paddingRight = 0;
    },
    ticks: {
      autoSkip: false, maxRotation: 0, minRotation: 0, padding: 12,
      font: { size: 38 }, color: '#000',
      callback: (v, i) => xTickLabels[i]
    }
  };
}

function yScale(type, min, max, tickValues, tickLabels) {
  return {
    type, min, max,
    grid: { display: false, drawTicks: false },
    border: { display: false },
    afterBuildTicks: s => { s.ticks = tickValues.map(v => ({ value: v })); },
    // keep the plot box fixed: no room taken for labels that stick out
    afterFit: s => {
      s.width = PLOT_LEFT;
      s.paddingTop = 0;
      s.paddingBottom = 0;
    },
    ticks: {
      display: !!tickLabels, padding: 10,
      font: { size: 38 }, color: '#000',
      callback: (v, i) => tickLabels ? tickLabels[i] : ''
    }
  };
}

function line(data, color, width, extra) {
  return Object.assign({
    data, borderColor: color, borderWidth: width,
    pointRadius: 0, pointHoverRadius: 0, fill: false, tension: 0
  }, extra || {});
}

// frame, inward ticks, axis title, power-of-ten labels, shock marker, notes
function decor(p, spec) {
  return {
    id: 'decor',
    afterDatasetsDraw(chart) {
      const { ctx, chartArea: a, scales: { x, y } } = chart;
      ctx.save();
      ctx.strokeStyle = '#555';
      ctx.lineWidth = 1.6;
      ctx.beginPath();
      xTickValues.forEach(v => {
        const px = x.getPixelForValue(v);
        ctx.moveTo(px, a.top); ctx.lineTo(px, a.top + 22);
        ctx.moveTo(px, a.bottom); ctx.lineTo(px, a.bottom - 22);
      });
      spec.yTicks.forEach(v => {
        const py = y.getPixelForValue(v);
        ctx.moveTo(a.left, py); ctx.lineTo(a.left + 20, py);
        ctx.moveTo(a.right, py); ctx.lineTo(a.right - 20, py);
      });
      ctx.stroke();
      ctx.strokeStyle = '#333';
      ctx.lineWidth = 2.6;
      ctx.strokeRect(a.left, a.top, a.right - a.left, a.bottom - a.top);
      ctx.restore();
    },
    afterDraw(chart) {
      const { ctx, scales: { x, y } } = chart;
      ctx.save();
      ctx.translate(0, -p.canvasTop); // page coordinates below
      ctx.fillStyle = '#000';

      if (spec.powerTicks) {
        spec.powerTicks.forEach(v => {
          const gy = y.getPixelForValue(v) + p.canvasTop;
          const e = Math.round(Math.log10(v));
          const es = e < 0 ? '−' + (-e) : String(e);
          ctx.font = fontPx(38);
          const wb = ctx.measureText('10').width;
          ctx.font = fontPx(27);
          const we = ctx.measureText(es).width;
          const x0 = 170 - wb - we;
          ctx.textAlign = 'left';
          ctx.textBaseline = 'alphabetic';
          ctx.font = fontPx(38);
          ctx.fillText('10', x0, gy + 15);
          ctx.font = fontPx(27);
          ctx.fillText(es, x0 + wb, gy - 8);
        });
      }

      ctx.save();
      ctx.translate(spec.titleX, spec.titleY);
      ctx.rotate(-Math.PI / 2);
      drawRich(ctx, spec.title, 0, 0, 42, 'center');
      ctx.restore();

      if (spec.notes) spec.notes(ctx);

      const sx = x.getPixelForValue(shockDoy);
      const y0 = Math.max(SHOCK_TOP, p.canvasTop);
      const y1 = Math.min(SHOCK_BOTTOM, p.canvasBottom);
      ctx.setLineDash([26, 10]);
      ctx.lineDashOffset = y0 - SHOCK_TOP;
      ctx.strokeStyle = '#25259a';
      ctx.lineWidth = 3;
      ctx.beginPath();
      ctx.moveTo(sx, y0);
      ctx.lineTo(sx, y1);
      ctx.stroke();
      ctx.restore();
    }
  };
}

function text(ctx, s, x, y, size, align) {
  ctx.font = fontPx(size);
  ctx.textAlign = align;
  ctx.textBaseline = 'alphabetic';
  ctx.fillText(s, x, y);
}

function makePanel(idx, datasets, yOpts, spec) {
  const p = panels[idx];
  const last = idx === panels.length - 1;
  const c = document.createElement('canvas');
  const h = p.canvasBottom - p.canvasTop;
  c.width = PAGE_W;
  c.height = h;
  c.style.top = p.canvasTop + 'px';
  c.style.width = PAGE_W + 'px';
  c.style.height = h + 'px';
  document.getElementById('wrap').appendChild(c);
  return new Chart(c.getContext('2d'), {
    type: 'line',
    data: { datasets },
    options: {
      responsive: false,
      animation: false,
      devicePixelRatio: 1,
      layout: {
        autoPadding: false,
        padding: {
          left: 0, right: PAGE_W - PLOT_RIGHT,
          top: p.top - p.canvasTop,
          bottom: last ? 0 : p.canvasBottom - p.bottom
        }
      },
      plugins: { legend: { display: false }, tooltip: { enabled: false } },
      events: [],
      scales: { x: xScale(last), y: yOpts }
    },
    plugins: [decor(p, spec)]
  });
}

// panel 1: ion fluxes
const epSeries = [flux47, flux66, flux114, flux190, flux310];
makePanel(0,
  epSeries.map((f, i) => line(pts(epTime, f, pow10), epColors[i], 2.8, { order: epSeries.length - 1 - i })),
  yScale('logarithmic', 1e1, 1e8, epTicks, null),
  {
    yTicks: epTicks, powerTicks: epTicks,
    title: [{ t: 'ions/(cm' }, { sup: '2' }, { t: ' s sr MeV)' }], titleX: 97, titleY: 236,
    notes(ctx) {
      const rows = [52, 101, 151, 201, 251];
      epLabels.forEach((lab, i) => {
        ctx.strokeStyle = epColors[i];
        ctx.lineWidth = 2.5;
        ctx.beginPath();
        ctx.moveTo(205, rows[i]);
        ctx.lineTo(275, rows[i]);
        ctx.stroke();
        ctx.fillStyle = '#000';
        text(ctx, lab, 283, rows[i] + 14, 40, 'left');
      });
      text(ctx, 'upstream', 1147, 153, 44, 'center');
      text(ctx, 'downstream', 2158, 153, 44, 'center');
    }
  });

// panel 2: solar wind speed
makePanel(1,
  [line(pts(vTime, vSw), '#000', 2.5)],
  yScale('linear', 350, 700, [400, 600], ['400', '600']),
  {
    yTicks: [400, 600],
    title: [{ t: 'V' }, { sub: 'SW' }, { t: '(km/s)' }], titleX: 71, titleY: 558,
    notes(ctx) { text(ctx, 'ACE–LEMS120 1999/02/18', 980, 538, 42, 'center'); }
  });

// panel 3: proton density
makePanel(2,
  [line(pts(npTime, np), '#000', 2.5)],
  yScale('linear', 0, 20, [5, 10, 15], ['5', '10', '15']),
  {
    yTicks: [5, 10, 15],
    title: [{ t: 'n' }, { sub: 'p' }, { t: ' (cm' }, { sup: '−3' }, { t: ')' }], titleX: 94, titleY: 758
  });

// panel 4: field components
makePanel(3,
  [
    line(pts(bRedTime, bRed), '#ff0000', 3.2, { borderDash: [12, 8], order: 0 }),
    line(pts(bDashTime, bDash), '#000', 2.4, { borderDash: [15, 9], order: 1 }),
    line(pts(bSolidTime, bSolid), '#000', 2.6, { order: 2 })
  ],
  yScale('linear', -30, 30, [-20, 0, 20], ['−20', '0', '20']),
  {
    yTicks: [-20, 0, 20],
    title: [{ t: 'B' }, { sub: 'i' }, { t: '(nT)' }], titleX: 71, titleY: 945
  });

// panel 5: field angle
makePanel(4,
  [line(pts(phiTime, phi), '#000', 2.5)],
  yScale('linear', 0, 360, [150, 300], ['150', '300']),
  {
    yTicks: [150, 300],
    title: [{ t: 'phi(°)' }], titleX: 90, titleY: 1122
  });

// panel 6: normalised variance, 1-min samples
const sigmaPts = sigmaLog.map((v, i) => ({ x: sigmaStart + i * sigmaStep, y: pow10(v) }));
makePanel(5,
  [line(sigmaPts, '#000', 2.7)],
  yScale('logarithmic', 5e-6, 1, sigmaTicks, null),
  {
    yTicks: sigmaTicks, powerTicks: sigmaTicks,
    title: [{ t: 'σ' }, { sup: '2' }, { t: '/B' }, { sub: '0', sup: '2' }], titleX: 75, titleY: 1306,
    notes(ctx) {
      ctx.strokeStyle = '#000';
      ctx.lineWidth = 2.2;
      ctx.beginPath();
      ctx.moveTo(2135, 1257);
      ctx.lineTo(2204, 1257);
      ctx.stroke();
      text(ctx, '1 min', 2212, 1272, 40, 'left');
      text(ctx, 'doy', 1267, 1535, 39, 'center');
    }
  });
</script>
</body>
</html>
